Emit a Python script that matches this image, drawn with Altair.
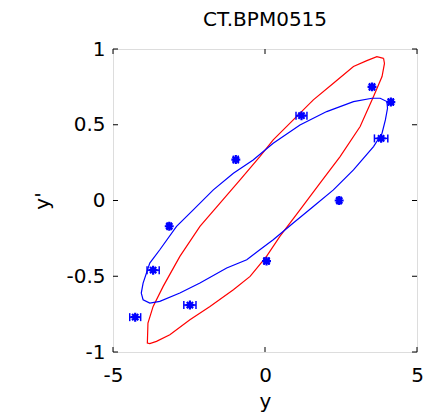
import altair as alt
import pandas as pd

# Measured points (blue asterisks with horizontal error bars)
pt_x = [3.52, 4.14, 3.82, 1.20, -0.96, 2.44, -3.15, -3.68, 0.05, -2.47, -4.27]
pt_y = [0.75, 0.65, 0.41, 0.56, 0.27, 0.00, -0.17, -0.46, -0.40, -0.69, -0.77]
pt_err = [0.08, 0.08, 0.22, 0.18, 0.08, 0.06, 0.06, 0.20, 0.08, 0.20, 0.18]

# Red ellipse
red_x = [3.90, 3.68, 3.35, 2.91, 2.25, 1.59, 0.93, 0.27, -0.17, -0.82, -1.48, -2.14,
         -2.80, -3.35, -3.68, -3.85, -3.87, -3.79, -3.57, -3.13, -2.47, -1.81, -1.04,
         -0.49, 0.05, 0.49, 1.15, 1.81, 2.47, 3.13, 3.57, 3.85, 3.93, 3.90]
red_y = [0.938, 0.949, 0.923, 0.884, 0.774, 0.664, 0.532, 0.400, 0.290, 0.136, -0.018,
         -0.171, -0.369, -0.567, -0.699, -0.809, -0.941, -0.945, -0.930, -0.886, -0.787,
         -0.699, -0.589, -0.501, -0.369, -0.237, -0.062, 0.114, 0.290, 0.488, 0.686,
         0.818, 0.905, 0.938]

# Blue ellipse
blue_x = [3.52, 3.79, 4.01, 4.03, 3.96, 3.85, 3.57, 2.91, 2.25, 1.59, 0.93, 0.27, -0.17,
          -0.60, -1.26, -2.14, -2.80, -3.46, -3.79, -4.01, -4.07, -4.01, -3.79, -3.46,
          -2.91, -2.36, -1.70, -1.04, -0.39, 0.27, 1.15, 2.03, 2.91, 3.52]
blue_y = [0.675, 0.675, 0.653, 0.609, 0.532, 0.444, 0.356, 0.202, 0.070, -0.040, -0.149,
          -0.259, -0.325, -0.391, -0.446, -0.545, -0.611, -0.666, -0.677, -0.655, -0.611,
          -0.545, -0.413, -0.325, -0.171, -0.062, 0.070, 0.180, 0.268, 0.378, 0.499,
          0.587, 0.653, 0.675]

x_ticks = [-5, 0, 5]
y_ticks = [-1, -0.5, 0, 0.5, 1]

W, H = 304, 303
FONT = "DejaVu Sans"
FS = 20

pts = pd.DataFrame({"x": pt_x, "y": pt_y, "e": pt_err})
pts["lo"] = pts["x"] - pts["e"]
pts["hi"] = pts["x"] + pts["e"]

ell = pd.concat([
    pd.DataFrame({"x": red_x, "y": red_y, "i": range(len(red_x)), "c": "red"}),
    pd.DataFrame({"x": blue_x, "y": blue_y, "i": range(len(blue_x)), "c": "blue"}),
])

xs = alt.Scale(domain=[-5, 5], nice=False, zero=False)
ys = alt.Scale(domain=[-1, 1], nice=False, zero=False)

xaxis = alt.Axis(values=x_ticks, ticks=False, grid=False, domain=False, labelFont=FONT,
                 labelFontSize=FS, labelColor="black", labelPadding=13, title="y",
                 titleFont=FONT, titleFontSize=FS, titleFontWeight="normal",
                 titleColor="black", titlePadding=6, labelFlush=False,
                 labelExpr="datum.value + ''")
yaxis = alt.Axis(values=y_ticks, ticks=False, grid=False, domain=False, labelFont=FONT,
                 labelFontSize=FS, labelColor="black", labelPadding=8, title="y'",
                 titleFont=FONT, titleFontSize=FS, titleFontWeight="normal",
                 titleColor="black", titlePadding=13, labelFlush=False,
                 labelExpr="datum.value + ''")

lines = alt.Chart(ell).mark_line(strokeWidth=1.2, interpolate="linear").encode(
    x=alt.X("x:Q", scale=xs, axis=xaxis),
    y=alt.Y("y:Q", scale=ys, axis=yaxis),
    detail="c:N",
    order="i:Q",
    color=alt.Color("c:N", scale=alt.Scale(domain=["red", "blue"], range=["#ff0000", "#0000ff"]), legend=None),
)

ebar = alt.Chart(pts).mark_rule(color="#0000ff", strokeWidth=1.5).encode(
    x="lo:Q", x2="hi:Q", y="y:Q")
capL = alt.Chart(pts).mark_point(shape="M0,-1L0,1", size=64, color="#0000ff",
                                 strokeWidth=1.5, filled=False, opacity=1).encode(x="lo:Q", y="y:Q")
capR = alt.Chart(pts).mark_point(shape="M0,-1L0,1", size=64, color="#0000ff",
                                 strokeWidth=1.5, filled=False, opacity=1).encode(x="hi:Q", y="y:Q")
stars = alt.Chart(pts).mark_point(
    shape="M-1,0L1,0M0,-1L0,1M-0.7,-0.7L0.7,0.7M-0.7,0.7L0.7,-0.7",
    size=80, color="#0000ff", strokeWidth=2.2, filled=False, opacity=1).encode(x="x:Q", y="y:Q")

xt = pd.DataFrame({"v": x_ticks})
yt = pd.DataFrame({"v": y_ticks})
tick_style = dict(color="black", strokeWidth=1)
tb = alt.Chart(xt).mark_rule(**tick_style).encode(x="v:Q", y=alt.value(H), y2=alt.value(H - 5))
tt = alt.Chart(xt).mark_rule(**tick_style).encode(x="v:Q", y=alt.value(0), y2=alt.value(5))
tl = alt.Chart(yt).mark_rule(**tick_style).encode(y="v:Q", x=alt.value(0), x2=alt.value(5))
tr = alt.Chart(yt).mark_rule(**tick_style).encode(y="v:Q", x=alt.value(W), x2=alt.value(W - 5))

chart = alt.layer(lines, ebar, capL, capR, stars, tb, tt, tl, tr).properties(
    width=W, height=H,
    title=alt.TitleParams("CT.BPM0515", font=FONT, fontSize=FS, fontWeight="normal",
                          color="black", offset=9, anchor="middle"),
    autosize=alt.AutoSizeParams(type="none"),
    padding={"left": 113, "top": 49, "right": 8, "bottom": 66},
).configure_view(stroke="black", strokeWidth=1.2).configure(background="white")

chart.save("out.html", embed_options={"renderer": "svg", "actions": False})
